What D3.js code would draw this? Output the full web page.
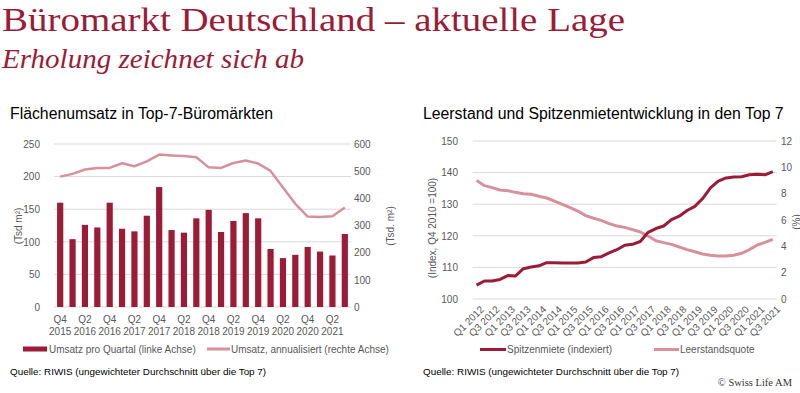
<!DOCTYPE html>
<html>
<head>
<meta charset="utf-8">
<script src="https://cdn.jsdelivr.net/npm/d3@7"></script>
<style>
  body { margin: 0; background: #fff; }
  svg { display: block; font-family: 'Liberation Sans', Arial, sans-serif; }
  .tick text { fill: #595959; font-size: 10px; }
  .domain { display: none; }
</style>
</head>
<body>
<svg id="chart" width="800" height="393"></svg>
<script>
// left chart: quarterly take-up (Q4 2015 .. Q3 2021)
const quartersLeft = ['Q4 2015',
  'Q1 2016', 'Q2 2016', 'Q3 2016', 'Q4 2016',
  'Q1 2017', 'Q2 2017', 'Q3 2017', 'Q4 2017',
  'Q1 2018', 'Q2 2018', 'Q3 2018', 'Q4 2018',
  'Q1 2019', 'Q2 2019', 'Q3 2019', 'Q4 2019',
  'Q1 2020', 'Q2 2020', 'Q3 2020', 'Q4 2020',
  'Q1 2021', 'Q2 2021', 'Q3 2021']
const umsatzQuartal = [160, 104, 126, 122, 160, 120, 116, 140, 184, 118, 114, 136,
  149, 115, 132, 144, 136, 89, 75, 80, 92, 85, 79, 112]
const umsatzAnnual = [480, 490, 506, 512, 512, 529, 518, 536, 561, 558, 556, 551,
  514, 512, 530, 539, 528, 501, 440, 380, 333, 331, 334, 366]
const leftTicksL = [0, 50, 100, 150, 200, 250]
const leftTicksR = [0, 100, 200, 300, 400, 500, 600]

// right chart: prime rent index and vacancy (Q1 2012 .. Q3 2021)
const quartersRight = []
for (let y = 2012; y <= 2021; y++) {
  for (let q = 1; q <= 4; q++) {
    if (y === 2021 && q > 3) break
    quartersRight.push(`Q${q} ${y}`)
  }
}
const spitzenmiete = [104.4, 105.7, 105.7, 106.2, 107.4, 107.3, 109.6, 110.1, 110.5, 111.5,
  111.5, 111.4, 111.4, 111.4, 111.7, 113.1, 113.4, 114.6, 115.6, 117.0,
  117.3, 118.2, 121.1, 122.3, 123.1, 125.1, 126.2, 128.0, 129.3, 131.8,
  135.2, 137.3, 138.3, 138.6, 138.7, 139.3, 139.5, 139.3, 140.3]
const leerstand = [9.01, 8.61, 8.46, 8.28, 8.23, 8.10, 8.0, 7.95, 7.80, 7.67,
  7.44, 7.19, 6.94, 6.68, 6.33, 6.13, 5.97, 5.72, 5.54, 5.44,
  5.27, 5.09, 4.78, 4.43, 4.28, 4.15, 3.95, 3.75, 3.59, 3.42,
  3.32, 3.27, 3.27, 3.32, 3.47, 3.75, 4.10, 4.30, 4.53]
const rightTicksL = [100, 110, 120, 130, 140, 150]
const rightTicksR = [0, 2, 4, 6, 8, 10, 12]

const dark = '#9c1b36'
const light = '#d6919d'
const grid = '#d9d9d9'
const labelFill = '#595959'

const svg = d3.select('#chart')
svg.append('rect').attr('width', 800).attr('height', 393).attr('fill', '#fff')

// header
svg.append('text')
  .attr('x', 2).attr('y', 30.5)
  .attr('textLength', 623).attr('lengthAdjust', 'spacingAndGlyphs')
  .style('font-family', "'Liberation Serif', 'Times New Roman', serif")
  .style('font-size', '34px')
  .attr('fill', dark)
  .text('Büromarkt Deutschland – aktuelle Lage')
svg.append('text')
  .attr('x', 2).attr('y', 68)
  .attr('textLength', 302).attr('lengthAdjust', 'spacingAndGlyphs')
  .style('font-family', "'Liberation Serif', 'Times New Roman', serif")
  .style('font-size', '28px')
  .style('font-style', 'italic')
  .attr('fill', dark)
  .text('Erholung zeichnet sich ab')

function gridlines(g, scale, ticks, x0, x1) {
  g.selectAll('line.grid')
    .data(ticks)
    .join('line')
    .attr('class', 'grid')
    .attr('x1', x0).attr('x2', x1)
    .attr('y1', d => scale(d)).attr('y2', d => scale(d))
    .attr('stroke', grid)
    .attr('stroke-width', 1)
}

function yAxes(g, yl, yr, ticksL, ticksR, xl, xr) {
  g.append('g')
    .attr('transform', `translate(${xl + 5},0)`)
    .call(d3.axisLeft(yl).tickValues(ticksL).tickSize(0).tickPadding(5))
  g.append('g')
    .attr('transform', `translate(${xr - 5},0)`)
    .call(d3.axisRight(yr).tickValues(ticksR).tickSize(0).tickPadding(5))
}

function yTitle(g, x, y, text) {
  g.append('text')
    .attr('transform', `translate(${x},${y}) rotate(-90)`)
    .attr('text-anchor', 'middle')
    .attr('dy', '0.35em')
    .style('font-size', '10px')
    .attr('fill', labelFill)
    .text(text)
}

function chartTitle(g, x, text) {
  g.append('text')
    .attr('x', x).attr('y', 119)
    .style('font-size', '15.8px')
    .attr('fill', '#000')
    .text(text)
}

function source(g, x) {
  g.append('text')
    .attr('x', x).attr('y', 375)
    .style('font-size', '9.9px')
    .attr('fill', '#000')
    .text('Quelle: RIWIS (ungewichteter Durchschnitt über die Top 7)')
}

// ---- left chart
const left = svg.append('g')
chartTitle(left, 10, 'Flächenumsatz in Top-7-Büromärkten')

const xL = d3.scaleBand().domain(quartersLeft).range([54, 351]).paddingInner(0.5).paddingOuter(0.25)
const yL = d3.scaleLinear().domain([0, 250]).range([307, 144])
const yLR = d3.scaleLinear().domain([0, 600]).range([307, 144])

gridlines(left, yL, leftTicksL, 54, 351)
yAxes(left, yL, yLR, leftTicksL, leftTicksR, 40, 354)
yTitle(left, 18, 226, '(Tsd m²)')
yTitle(left, 390, 226, '(Tsd. m²)')

left.selectAll('rect.bar')
  .data(umsatzQuartal)
  .join('rect')
  .attr('class', 'bar')
  .attr('x', (d, i) => xL(quartersLeft[i]))
  .attr('width', xL.bandwidth())
  .attr('y', d => yL(d))
  .attr('height', d => yL(0) - yL(d))
  .attr('fill', dark)

left.append('path')
  .datum(umsatzAnnual)
  .attr('fill', 'none')
  .attr('stroke', light)
  .attr('stroke-width', 2.5)
  .attr('stroke-linejoin', 'round')
  .attr('d', d3.line()
    .x((d, i) => xL(quartersLeft[i]) + xL.bandwidth() / 2)
    .y(d => yLR(d)))

const xLabelsL = left.selectAll('g.xlab')
  .data(quartersLeft.filter((q, i) => i % 2 === 0))
  .join('g')
  .attr('class', 'xlab')
  .attr('transform', d => `translate(${xL(d) + xL.bandwidth() / 2},0)`)
xLabelsL.append('text')
  .attr('y', 322.5).attr('text-anchor', 'middle')
  .style('font-size', '10px').attr('fill', labelFill)
  .text(d => d.split(' ')[0])
xLabelsL.append('text')
  .attr('y', 334.5).attr('text-anchor', 'middle')
  .style('font-size', '10px').attr('fill', labelFill)
  .text(d => d.split(' ')[1])

// legend left
left.append('rect').attr('x', 23).attr('y', 346.5).attr('width', 24).attr('height', 5).attr('fill', dark)
left.append('text').attr('x', 49).attr('y', 352.5).style('font-size', '10px').attr('fill', labelFill)
  .text('Umsatz pro Quartal (linke Achse)')
left.append('line').attr('x1', 207).attr('x2', 230).attr('y1', 349).attr('y2', 349)
  .attr('stroke', light).attr('stroke-width', 3)
left.append('text').attr('x', 231).attr('y', 352.5).style('font-size', '10px').attr('fill', labelFill)
  .text('Umsatz, annualisiert (rechte Achse)')
source(left, 10)

// ---- right chart
const right = svg.append('g')
chartTitle(right, 423, 'Leerstand und Spitzenmietentwicklung in den Top 7')

const xR = d3.scalePoint().domain(quartersRight).range([472.7, 776.7]).padding(0.5)
const yR = d3.scaleLinear().domain([100, 150]).range([299, 141])
const yRR = d3.scaleLinear().domain([0, 12]).range([299, 141])

gridlines(right, yR, rightTicksL, 472.7, 776.7)
yAxes(right, yR, yRR, rightTicksL, rightTicksR, 458, 781)
yTitle(right, 432, 228, '(Index, Q4 2010 =100)')
yTitle(right, 796, 222, '(%)')

const lineR = y => d3.line()
  .x((d, i) => xR(quartersRight[i]))
  .y(d => y(d))

right.append('path')
  .datum(leerstand)
  .attr('fill', 'none')
  .attr('stroke', light)
  .attr('stroke-width', 3)
  .attr('stroke-linejoin', 'round')
  .attr('d', lineR(yRR))
right.append('path')
  .datum(spitzenmiete)
  .attr('fill', 'none')
  .attr('stroke', dark)
  .attr('stroke-width', 3)
  .attr('stroke-linejoin', 'round')
  .attr('d', lineR(yR))

right.selectAll('text.xlab')
  .data(quartersRight.filter((q, i) => i % 2 === 0))
  .join('text')
  .attr('class', 'xlab')
  .attr('transform', d => `translate(${xR(d) + 3},${305}) rotate(-45)`)
  .attr('text-anchor', 'end')
  .attr('dy', '0.71em')
  .style('font-size', '10px')
  .attr('fill', labelFill)
  .text(d => d)

// legend right
right.append('line').attr('x1', 480).attr('x2', 506).attr('y1', 349.5).attr('y2', 349.5)
  .attr('stroke', dark).attr('stroke-width', 3)
right.append('text').attr('x', 507).attr('y', 353).style('font-size', '10px').attr('fill', labelFill)
  .text('Spitzenmiete (indexiert)')
right.append('line').attr('x1', 654).attr('x2', 679).attr('y1', 349.5).attr('y2', 349.5)
  .attr('stroke', light).attr('stroke-width', 3)
right.append('text').attr('x', 680).attr('y', 353).style('font-size', '10px').attr('fill', labelFill)
  .text('Leerstandsquote')
source(right, 423)

svg.append('text')
  .attr('x', 792).attr('y', 386)
  .attr('text-anchor', 'end')
  .style('font-family', "'Liberation Serif', 'Times New Roman', serif")
  .style('font-size', '10.5px')
  .attr('fill', '#333')
  .text('© Swiss Life AM')
</script>
</body>
</html>
